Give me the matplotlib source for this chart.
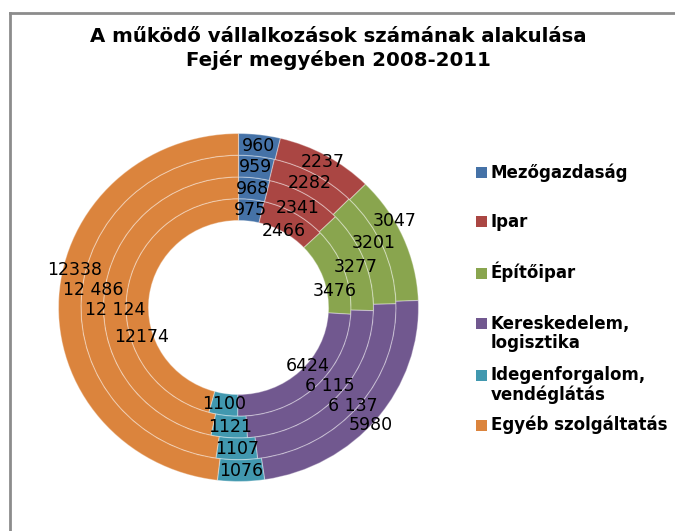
import numpy as np
import matplotlib.pyplot as plt
from matplotlib.patches import Rectangle
from matplotlib.lines import Line2D

# categories and values, inner ring first (2008 -> 2011)
categories = ['Mezőgazdaság', 'Ipar', 'Építőipar', 'Kereskedelem,\nlogisztika',
              'Idegenforgalom,\nvendéglátás', 'Egyéb szolgáltatás']
years = ['2008', '2009', '2010', '2011']
v2008 = [975, 2466, 3476, 6424, 1100, 12174]
v2009 = [968, 2341, 3277, 6115, 1121, 12124]
v2010 = [959, 2282, 3201, 6137, 1107, 12486]
v2011 = [960, 2237, 3047, 5980, 1076, 12338]
# labels as printed on the chart (some with thousands space, some without)
l2008 = ['975', '2466', '3476', '6424', '1100', '12174']
l2009 = ['968', '2341', '3277', '6 115', '1121', '12 124']
l2010 = ['959', '2282', '3201', '6 137', '1107', '12 486']
l2011 = ['960', '2237', '3047', '5980', '1076', '12338']

colors = ['#4572A7', '#AA4643', '#89A54E', '#71588F', '#4198AF', '#DB843D']

# labels were dragged a bit in the original:
# angular nudge (deg, clockwise) and label radius (fraction of outer radius) per ring
nudge = {2: [10, 1.5, -3, -6], 3: [-6, -2, 1, 3], 5: [-25, -7, 3, 10]}
lab_r = {1: [0.51, 0.66, 0.82, 0.96], 2: [0.54, 0.69, 0.84, 1.0], 3: [0.51, 0.68, 0.85, 1.0]}

W, H = 675, 531
fig = plt.figure(figsize=(W / 100, H / 100), dpi=100)

# frame (only top and left edge visible in the original)
fig.add_artist(Line2D([9.5 / W, 1], [1 - 12.5 / H, 1 - 12.5 / H], color='#8c8c8c', lw=2))
fig.add_artist(Line2D([9.5 / W, 9.5 / W], [0, 1 - 12.5 / H], color='#8c8c8c', lw=2))

fig.text(338 / W, 1 - 48.5 / H, 'A működő vállalkozások számának alakulása\nFejér megyében 2008-2011',
         ha='center', va='center', fontsize=14.2, fontweight='bold', linespacing=1.25)

# donut axes (the original is slightly wider than tall)
cx, cy, Rx, Ry = 238.5, 307.5, 180, 174
ax = fig.add_axes([(cx - Rx) / W, (H - cy - Ry) / H, 2 * Rx / W, 2 * Ry / H])

rings = [v2008, v2009, v2010, v2011]
ring_labels = [l2008, l2009, l2010, l2011]
width = 0.125
inner = 0.5
for i, (vals, labs) in enumerate(zip(rings, ring_labels)):
    r = inner + (i + 1) * width
    wedges, _ = ax.pie(vals, radius=r, colors=colors, startangle=90, counterclock=False,
                       wedgeprops=dict(width=width, edgecolor=(1, 1, 1, 0.35), linewidth=0.8))
    for j, (w, lab) in enumerate(zip(wedges, labs)):
        a = (w.theta1 + w.theta2) / 2 - nudge.get(j, [0] * 4)[i]
        rm = lab_r[j][i] if j in lab_r else r - width / 2
        ang = np.radians(a)
        ax.text(rm * np.cos(ang), rm * np.sin(ang), lab, ha='center', va='center',
                fontsize=12.5, color='black')

ax.set_xlim(-1, 1)
ax.set_ylim(-1, 1)
ax.set_aspect('auto')
ax.axis('off')

# legend, drawn by hand so the swatch sits on the first text line
leg_y = [172, 222, 273, 323, 375, 425]
for name, col, y in zip(categories, colors, leg_y):
    fig.add_artist(Rectangle((476 / W, 1 - (y + 5.5) / H), 11 / W, 11 / H,
                             facecolor=col, edgecolor='none', transform=fig.transFigure))
    for k, line in enumerate(name.split('\n')):
        fig.text(491 / W, 1 - (y + 5.5 + 20 * k) / H, line, ha='left', va='baseline',
                 fontsize=12, fontweight='bold')

fig.savefig('out.png', dpi=100)
